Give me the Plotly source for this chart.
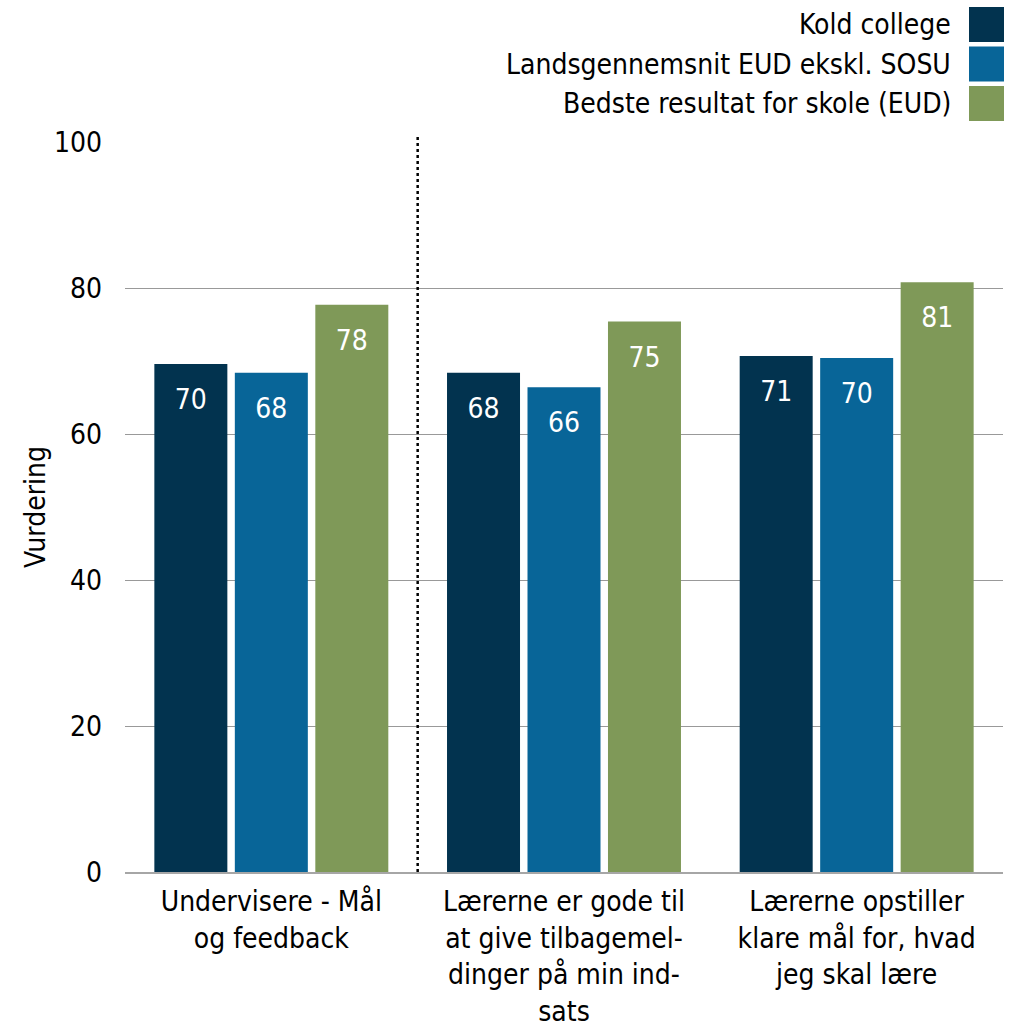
import plotly.graph_objects as go

categories = [
    "Undervisere - Mål<br>og feedback",
    "Lærerne er gode til<br>at give tilbagemel-<br>dinger på min ind-<br>sats",
    "Lærerne opstiller<br>klare mål for, hvad<br>jeg skal lære",
]
series_names = ["Kold college", "Landsgennemsnit EUD ekskl. SOSU", "Bedste resultat for skole (EUD)"]
kold = [69.6, 68.4, 70.7]
lands = [68.4, 66.4, 70.4]
bedste = [77.7, 75.4, 80.8]
series_values = [kold, lands, bedste]
colors = ["#02334F", "#086598", "#7F9958"]
y_ticks = [0, 20, 40, 60, 80, 100]
y_title = "Vurdering"

FONT = "DejaVu Sans Condensed, DejaVu Sans"
FS = 28
LABEL_DROP = 5.2

fig = go.Figure()
for name, vals, col in zip(series_names, series_values, colors):
    fig.add_trace(go.Bar(
        x=categories, y=vals, name=name, marker=dict(color=col, line=dict(width=0)),
        showlegend=False, hoverinfo="skip",
    ))
for name, vals in zip(series_names, series_values):
    fig.add_trace(go.Scatter(
        x=categories, y=[v - LABEL_DROP for v in vals], mode="text",
        text=[str(round(v)) for v in vals], textposition="middle center",
        textfont=dict(color="white", size=FS, family=FONT),
        showlegend=False, hoverinfo="skip", cliponaxis=False,
    ))

# separator dotted line between first and second group
fig.add_shape(type="line", xref="x", yref="paper", x0=0.5, x1=0.5, y0=0, y1=1.007,
              line=dict(color="black", width=2.5, dash="dot"))

# manual legend (text left, swatch right)
L, R, T, B = 125, 1003, 142, 872
W, H = R - L, B - T
def px(xp): return (xp - L) / W
def py(yp): return (B - yp) / H
for i, (name, col) in enumerate(zip(series_names, colors)):
    top = 7 + i * 39.5
    fig.add_shape(type="rect", xref="paper", yref="paper",
                  x0=px(969), x1=px(1004), y0=py(top), y1=py(top + 35),
                  fillcolor=col, line=dict(width=0))
    fig.add_annotation(xref="paper", yref="paper", x=px(953), y=py(top + 17.5),
                       text=name, showarrow=False, xanchor="right", yanchor="middle",
                       font=dict(size=FS, family=FONT, color="black"))

# y-axis title
fig.add_annotation(xref="paper", yref="paper", x=px(35), y=0.5, text=y_title,
                   textangle=-90, showarrow=False, xanchor="center", yanchor="middle",
                   font=dict(size=FS, family=FONT, color="black"))

fig.update_layout(
    width=1010, height=1030,
    margin=dict(l=L, r=1010 - R, t=T, b=1030 - B),
    barmode="group", bargap=0.175, bargroupgap=0.093,
    scattermode="group", scattergap=0.175,
    plot_bgcolor="white", paper_bgcolor="white",
    font=dict(family=FONT, size=FS, color="black"),
    xaxis=dict(showgrid=False, showline=True, linecolor="#A6A6A6", linewidth=1.5,
               ticks="", ticklabelstandoff=4, automargin=False,
               tickfont=dict(size=FS, family=FONT, color="black")),
    yaxis=dict(range=[0, 100], tickvals=y_ticks, showgrid=True, gridcolor="#999999",
               gridwidth=1, zeroline=False, showline=False, ticks="",
               ticklabelstandoff=22, automargin=False,
               tickfont=dict(size=FS, family=FONT, color="black")),
)

fig.write_html("out.html", config={"displayModeBar": False},
               post_script="document.body.style.margin='0';")
